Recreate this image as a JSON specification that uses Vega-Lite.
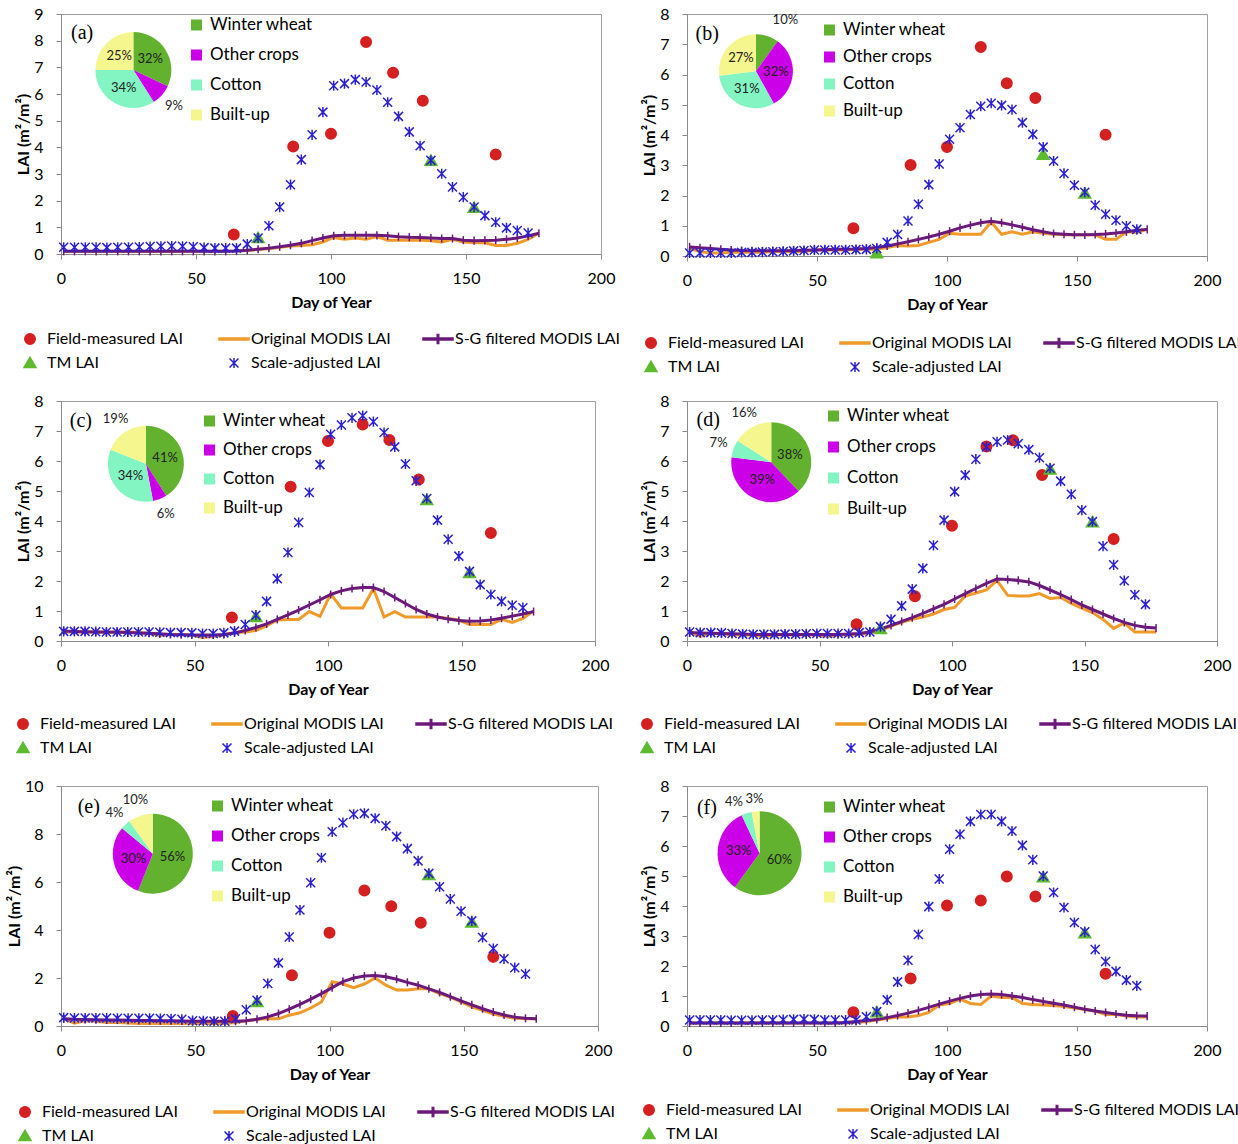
{
"$schema":"https://vega.github.io/schema/vega-lite/v6.json",
"padding":{"left":5,"top":5,"right":5,"bottom":5},
"bounds":"flush",
"columns":2,
"spacing":{"row":145,"column":86},
"resolve":{"scale":{"x":"independent","y":"independent","color":"independent","fill":"independent","stroke":"independent","shape":"independent","theta":"independent"},"legend":{"color":"independent","fill":"independent","stroke":"independent","shape":"independent"},"axis":{"x":"independent","y":"independent"}},
"config":{
 "font":"Lato",
 "view":{"stroke":"#a0a0a0","strokeWidth":1},
 "axis":{"grid":false,"labelOverlap":false,"labelFlush":false,"domainColor":"#8a8a8a","tickColor":"#8a8a8a","tickSize":5,"labelFont":"Lato","labelFontSize":16,"labelColor":"#000","titleFont":"Lato","titleFontSize":16,"titleFontWeight":"bold","titleColor":"#000"},
 "axisX":{"labelPadding":11,"titlePadding":8},
 "axisY":{"labelPadding":13,"titlePadding":2}
},
"datasets":{
"panels":[{"p":"a","label":"(a)"},{"p":"b","label":"(b)"},{"p":"c","label":"(c)"},{"p":"d","label":"(d)"},{"p":"e","label":"(e)"},{"p":"f","label":"(f)"}],
"pie":[
{"p":"a","crop":"Winter wheat","pct":0.32},{"p":"a","crop":"Other crops","pct":0.09},{"p":"a","crop":"Cotton","pct":0.34},{"p":"a","crop":"Built-up","pct":0.25},
{"p":"b","crop":"Winter wheat","pct":0.10},{"p":"b","crop":"Other crops","pct":0.32},{"p":"b","crop":"Cotton","pct":0.31},{"p":"b","crop":"Built-up","pct":0.27},
{"p":"c","crop":"Winter wheat","pct":0.41},{"p":"c","crop":"Other crops","pct":0.06},{"p":"c","crop":"Cotton","pct":0.34},{"p":"c","crop":"Built-up","pct":0.19},
{"p":"d","crop":"Winter wheat","pct":0.38},{"p":"d","crop":"Other crops","pct":0.39},{"p":"d","crop":"Cotton","pct":0.07},{"p":"d","crop":"Built-up","pct":0.16},
{"p":"e","crop":"Winter wheat","pct":0.56},{"p":"e","crop":"Other crops","pct":0.30},{"p":"e","crop":"Cotton","pct":0.04},{"p":"e","crop":"Built-up","pct":0.10},
{"p":"f","crop":"Winter wheat","pct":0.60},{"p":"f","crop":"Other crops","pct":0.33},{"p":"f","crop":"Cotton","pct":0.04},{"p":"f","crop":"Built-up","pct":0.03}
],
"lai":[
{"p":"a","d":64,"FM":0.73},{"p":"a","d":86,"FM":4.03},{"p":"a","d":100,"FM":4.51},{"p":"a","d":113,"FM":7.95},{"p":"a","d":123,"FM":6.8},{"p":"a","d":134,"FM":5.75},{"p":"a","d":161,"FM":3.73},
{"p":"a","d":73,"TM":0.6},{"p":"a","d":137,"TM":3.5},{"p":"a","d":153,"TM":1.73},
{"p":"a","d":1,"SA":0.25,"OM":0.1,"SG":0.1},{"p":"a","d":5,"SA":0.25,"OM":0.1,"SG":0.1},{"p":"a","d":9,"SA":0.25,"OM":0.1,"SG":0.1},{"p":"a","d":13,"SA":0.25,"OM":0.1,"SG":0.1},{"p":"a","d":17,"SA":0.24,"OM":0.1,"SG":0.1},{"p":"a","d":21,"SA":0.25,"OM":0.1,"SG":0.1},{"p":"a","d":25,"SA":0.25,"OM":0.1,"SG":0.1},{"p":"a","d":29,"SA":0.26,"OM":0.1,"SG":0.1},{"p":"a","d":33,"SA":0.28,"OM":0.1,"SG":0.1},{"p":"a","d":37,"SA":0.29,"OM":0.1,"SG":0.1},{"p":"a","d":41,"SA":0.3,"OM":0.1,"SG":0.1},{"p":"a","d":45,"SA":0.29,"OM":0.1,"SG":0.1},{"p":"a","d":49,"SA":0.27,"OM":0.1,"SG":0.1},{"p":"a","d":53,"SA":0.24,"OM":0.1,"SG":0.1},{"p":"a","d":57,"SA":0.22,"OM":0.1,"SG":0.1},{"p":"a","d":61,"SA":0.22,"OM":0.1,"SG":0.1},{"p":"a","d":65,"SA":0.22,"OM":0.11,"SG":0.11},{"p":"a","d":69,"SA":0.37,"OM":0.13,"SG":0.14},{"p":"a","d":73,"SA":0.6,"OM":0.18,"SG":0.18},{"p":"a","d":77,"SA":1.06,"OM":0.2,"SG":0.22},{"p":"a","d":81,"SA":1.76,"OM":0.25,"SG":0.27},{"p":"a","d":85,"SA":2.6,"OM":0.3,"SG":0.33},{"p":"a","d":89,"SA":3.54,"OM":0.32,"SG":0.4},{"p":"a","d":93,"SA":4.47,"OM":0.35,"SG":0.5},{"p":"a","d":97,"SA":5.32,"OM":0.45,"SG":0.6},{"p":"a","d":101,"SA":6.31,"OM":0.62,"SG":0.68},{"p":"a","d":105,"SA":6.39,"OM":0.55,"SG":0.7},{"p":"a","d":109,"SA":6.54,"OM":0.6,"SG":0.7},{"p":"a","d":113,"SA":6.45,"OM":0.55,"SG":0.7},{"p":"a","d":117,"SA":6.15,"OM":0.65,"SG":0.7},{"p":"a","d":121,"SA":5.69,"OM":0.52,"SG":0.68},{"p":"a","d":125,"SA":5.16,"OM":0.52,"SG":0.65},{"p":"a","d":129,"SA":4.58,"OM":0.52,"SG":0.63},{"p":"a","d":133,"SA":4.06,"OM":0.52,"SG":0.62},{"p":"a","d":137,"SA":3.51,"OM":0.5,"SG":0.6},{"p":"a","d":141,"SA":3.01,"OM":0.45,"SG":0.58},{"p":"a","d":145,"SA":2.51,"OM":0.55,"SG":0.58},{"p":"a","d":149,"SA":2.13,"OM":0.45,"SG":0.52},{"p":"a","d":153,"SA":1.76,"OM":0.42,"SG":0.5},{"p":"a","d":157,"SA":1.44,"OM":0.42,"SG":0.51},{"p":"a","d":161,"SA":1.19,"OM":0.32,"SG":0.52},{"p":"a","d":165,"SA":0.98,"OM":0.32,"SG":0.55},{"p":"a","d":169,"SA":0.88,"OM":0.4,"SG":0.6},{"p":"a","d":173,"SA":0.79,"OM":0.55,"SG":0.68},{"p":"a","d":177,"OM":0.78,"SG":0.78},
{"p":"b","d":64,"FM":0.92},{"p":"b","d":86,"FM":3.01},{"p":"b","d":100,"FM":3.6},{"p":"b","d":113,"FM":6.91},{"p":"b","d":123,"FM":5.71},{"p":"b","d":134,"FM":5.22},{"p":"b","d":161,"FM":4.01},
{"p":"b","d":73,"TM":0.09},{"p":"b","d":137,"TM":3.35},{"p":"b","d":153,"TM":2.07},
{"p":"b","d":1,"SA":0.1,"OM":0.25,"SG":0.3},{"p":"b","d":5,"SA":0.1,"OM":0.15,"SG":0.27},{"p":"b","d":9,"SA":0.1,"OM":0.1,"SG":0.25},{"p":"b","d":13,"SA":0.1,"OM":0.1,"SG":0.22},{"p":"b","d":17,"SA":0.1,"OM":0.12,"SG":0.2},{"p":"b","d":21,"SA":0.12,"OM":0.12,"SG":0.18},{"p":"b","d":25,"SA":0.12,"OM":0.12,"SG":0.17},{"p":"b","d":29,"SA":0.13,"OM":0.12,"SG":0.17},{"p":"b","d":33,"SA":0.14,"OM":0.15,"SG":0.17},{"p":"b","d":37,"SA":0.15,"OM":0.15,"SG":0.17},{"p":"b","d":41,"SA":0.17,"OM":0.15,"SG":0.18},{"p":"b","d":45,"SA":0.18,"OM":0.15,"SG":0.19},{"p":"b","d":49,"SA":0.2,"OM":0.2,"SG":0.2},{"p":"b","d":53,"SA":0.2,"OM":0.2,"SG":0.21},{"p":"b","d":57,"SA":0.2,"OM":0.2,"SG":0.22},{"p":"b","d":61,"SA":0.2,"OM":0.2,"SG":0.22},{"p":"b","d":65,"SA":0.21,"OM":0.22,"SG":0.23},{"p":"b","d":69,"SA":0.22,"OM":0.22,"SG":0.25},{"p":"b","d":73,"SA":0.25,"OM":0.22,"SG":0.28},{"p":"b","d":77,"SA":0.45,"OM":0.28,"SG":0.33},{"p":"b","d":81,"SA":0.71,"OM":0.35,"SG":0.4},{"p":"b","d":85,"SA":1.16,"OM":0.33,"SG":0.47},{"p":"b","d":89,"SA":1.71,"OM":0.35,"SG":0.55},{"p":"b","d":93,"SA":2.36,"OM":0.45,"SG":0.63},{"p":"b","d":97,"SA":3.04,"OM":0.55,"SG":0.72},{"p":"b","d":101,"SA":3.86,"OM":0.75,"SG":0.82},{"p":"b","d":105,"SA":4.24,"OM":0.72,"SG":0.93},{"p":"b","d":109,"SA":4.68,"OM":0.72,"SG":1.02},{"p":"b","d":113,"SA":4.95,"OM":0.72,"SG":1.1},{"p":"b","d":117,"SA":5.05,"OM":1.12,"SG":1.15},{"p":"b","d":121,"SA":4.98,"OM":0.72,"SG":1.1},{"p":"b","d":125,"SA":4.84,"OM":0.8,"SG":1.03},{"p":"b","d":129,"SA":4.41,"OM":0.72,"SG":0.95},{"p":"b","d":133,"SA":4.02,"OM":0.8,"SG":0.87},{"p":"b","d":137,"SA":3.6,"OM":0.75,"SG":0.8},{"p":"b","d":141,"SA":3.14,"OM":0.72,"SG":0.74},{"p":"b","d":145,"SA":2.73,"OM":0.7,"SG":0.72},{"p":"b","d":149,"SA":2.34,"OM":0.7,"SG":0.7},{"p":"b","d":153,"SA":2.11,"OM":0.7,"SG":0.7},{"p":"b","d":157,"SA":1.68,"OM":0.7,"SG":0.71},{"p":"b","d":161,"SA":1.38,"OM":0.55,"SG":0.73},{"p":"b","d":165,"SA":1.18,"OM":0.55,"SG":0.76},{"p":"b","d":169,"SA":0.99,"OM":0.8,"SG":0.8},{"p":"b","d":173,"SA":0.88,"OM":0.78,"SG":0.85},{"p":"b","d":177,"OM":0.88,"SG":0.88},
{"p":"c","d":64,"FM":0.78},{"p":"c","d":86,"FM":5.14},{"p":"c","d":100,"FM":6.67},{"p":"c","d":113,"FM":7.22},{"p":"c","d":123,"FM":6.7},{"p":"c","d":134,"FM":5.38},{"p":"c","d":161,"FM":3.6},
{"p":"c","d":73,"TM":0.8},{"p":"c","d":137,"TM":4.7},{"p":"c","d":153,"TM":2.27},
{"p":"c","d":1,"SA":0.32,"OM":0.3,"SG":0.33},{"p":"c","d":5,"SA":0.32,"OM":0.3,"SG":0.32},{"p":"c","d":9,"SA":0.32,"OM":0.3,"SG":0.31},{"p":"c","d":13,"SA":0.31,"OM":0.3,"SG":0.3},{"p":"c","d":17,"SA":0.3,"OM":0.28,"SG":0.3},{"p":"c","d":21,"SA":0.3,"OM":0.3,"SG":0.29},{"p":"c","d":25,"SA":0.3,"OM":0.3,"SG":0.28},{"p":"c","d":29,"SA":0.3,"OM":0.28,"SG":0.27},{"p":"c","d":33,"SA":0.3,"OM":0.25,"SG":0.26},{"p":"c","d":37,"SA":0.29,"OM":0.18,"SG":0.24},{"p":"c","d":41,"SA":0.28,"OM":0.22,"SG":0.22},{"p":"c","d":45,"SA":0.28,"OM":0.22,"SG":0.21},{"p":"c","d":49,"SA":0.27,"OM":0.2,"SG":0.2},{"p":"c","d":53,"SA":0.25,"OM":0.12,"SG":0.2},{"p":"c","d":57,"SA":0.25,"OM":0.15,"SG":0.2},{"p":"c","d":61,"SA":0.27,"OM":0.2,"SG":0.22},{"p":"c","d":65,"SA":0.33,"OM":0.28,"SG":0.27},{"p":"c","d":69,"SA":0.55,"OM":0.3,"SG":0.35},{"p":"c","d":73,"SA":0.86,"OM":0.35,"SG":0.45},{"p":"c","d":77,"SA":1.32,"OM":0.5,"SG":0.57},{"p":"c","d":81,"SA":2.08,"OM":0.7,"SG":0.72},{"p":"c","d":85,"SA":2.95,"OM":0.72,"SG":0.87},{"p":"c","d":89,"SA":3.95,"OM":0.72,"SG":1.03},{"p":"c","d":93,"SA":4.95,"OM":0.98,"SG":1.2},{"p":"c","d":97,"SA":5.88,"OM":0.82,"SG":1.37},{"p":"c","d":101,"SA":6.89,"OM":1.57,"SG":1.55},{"p":"c","d":105,"SA":7.2,"OM":1.1,"SG":1.67},{"p":"c","d":109,"SA":7.44,"OM":1.1,"SG":1.75},{"p":"c","d":113,"SA":7.51,"OM":1.1,"SG":1.78},{"p":"c","d":117,"SA":7.31,"OM":1.75,"SG":1.78},{"p":"c","d":121,"SA":6.95,"OM":0.8,"SG":1.65},{"p":"c","d":125,"SA":6.47,"OM":0.98,"SG":1.45},{"p":"c","d":129,"SA":5.9,"OM":0.8,"SG":1.25},{"p":"c","d":133,"SA":5.34,"OM":0.8,"SG":1.05},{"p":"c","d":137,"SA":4.75,"OM":0.8,"SG":0.9},{"p":"c","d":141,"SA":4.03,"OM":0.8,"SG":0.8},{"p":"c","d":145,"SA":3.39,"OM":0.75,"SG":0.73},{"p":"c","d":149,"SA":2.83,"OM":0.7,"SG":0.68},{"p":"c","d":153,"SA":2.32,"OM":0.55,"SG":0.66},{"p":"c","d":157,"SA":1.88,"OM":0.55,"SG":0.67},{"p":"c","d":161,"SA":1.55,"OM":0.55,"SG":0.7},{"p":"c","d":165,"SA":1.32,"OM":0.72,"SG":0.76},{"p":"c","d":169,"SA":1.19,"OM":0.62,"SG":0.83},{"p":"c","d":173,"SA":1.11,"OM":0.75,"SG":0.9},{"p":"c","d":177,"OM":1.0,"SG":0.98},
{"p":"d","d":64,"FM":0.56},{"p":"d","d":86,"FM":1.49},{"p":"d","d":100,"FM":3.84},{"p":"d","d":113,"FM":6.48},{"p":"d","d":123,"FM":6.69},{"p":"d","d":134,"FM":5.53},{"p":"d","d":161,"FM":3.4},
{"p":"d","d":73,"TM":0.4},{"p":"d","d":137,"TM":5.72},{"p":"d","d":153,"TM":3.96},
{"p":"d","d":1,"SA":0.3,"OM":0.3,"SG":0.28},{"p":"d","d":5,"SA":0.28,"OM":0.15,"SG":0.27},{"p":"d","d":9,"SA":0.28,"OM":0.25,"SG":0.26},{"p":"d","d":13,"SA":0.27,"OM":0.25,"SG":0.25},{"p":"d","d":17,"SA":0.25,"OM":0.2,"SG":0.24},{"p":"d","d":21,"SA":0.23,"OM":0.2,"SG":0.23},{"p":"d","d":25,"SA":0.22,"OM":0.2,"SG":0.22},{"p":"d","d":29,"SA":0.22,"OM":0.15,"SG":0.22},{"p":"d","d":33,"SA":0.22,"OM":0.2,"SG":0.22},{"p":"d","d":37,"SA":0.23,"OM":0.2,"SG":0.22},{"p":"d","d":41,"SA":0.23,"OM":0.2,"SG":0.22},{"p":"d","d":45,"SA":0.24,"OM":0.2,"SG":0.22},{"p":"d","d":49,"SA":0.25,"OM":0.2,"SG":0.22},{"p":"d","d":53,"SA":0.25,"OM":0.15,"SG":0.22},{"p":"d","d":57,"SA":0.25,"OM":0.2,"SG":0.22},{"p":"d","d":61,"SA":0.25,"OM":0.2,"SG":0.23},{"p":"d","d":65,"SA":0.28,"OM":0.22,"SG":0.25},{"p":"d","d":69,"SA":0.3,"OM":0.28,"SG":0.3},{"p":"d","d":73,"SA":0.48,"OM":0.35,"SG":0.4},{"p":"d","d":77,"SA":0.72,"OM":0.5,"SG":0.52},{"p":"d","d":81,"SA":1.17,"OM":0.62,"SG":0.65},{"p":"d","d":85,"SA":1.73,"OM":0.72,"SG":0.78},{"p":"d","d":89,"SA":2.42,"OM":0.8,"SG":0.92},{"p":"d","d":93,"SA":3.19,"OM":0.9,"SG":1.07},{"p":"d","d":97,"SA":4.03,"OM":1.05,"SG":1.22},{"p":"d","d":101,"SA":4.98,"OM":1.12,"SG":1.4},{"p":"d","d":105,"SA":5.53,"OM":1.5,"SG":1.58},{"p":"d","d":109,"SA":6.06,"OM":1.6,"SG":1.75},{"p":"d","d":113,"SA":6.47,"OM":1.7,"SG":1.92},{"p":"d","d":117,"SA":6.64,"OM":2.02,"SG":2.07},{"p":"d","d":121,"SA":6.7,"OM":1.52,"SG":2.05},{"p":"d","d":125,"SA":6.58,"OM":1.5,"SG":2.02},{"p":"d","d":129,"SA":6.38,"OM":1.5,"SG":1.97},{"p":"d","d":133,"SA":6.11,"OM":1.58,"SG":1.85},{"p":"d","d":137,"SA":5.76,"OM":1.42,"SG":1.7},{"p":"d","d":141,"SA":5.33,"OM":1.45,"SG":1.55},{"p":"d","d":145,"SA":4.89,"OM":1.25,"SG":1.38},{"p":"d","d":149,"SA":4.36,"OM":1.1,"SG":1.2},{"p":"d","d":153,"SA":3.98,"OM":0.95,"SG":1.05},{"p":"d","d":157,"SA":3.16,"OM":0.72,"SG":0.9},{"p":"d","d":161,"SA":2.54,"OM":0.42,"SG":0.75},{"p":"d","d":165,"SA":2.01,"OM":0.6,"SG":0.62},{"p":"d","d":169,"SA":1.54,"OM":0.3,"SG":0.52},{"p":"d","d":173,"SA":1.22,"OM":0.3,"SG":0.46},{"p":"d","d":177,"OM":0.3,"SG":0.43},
{"p":"e","d":64,"FM":0.42},{"p":"e","d":86,"FM":2.11},{"p":"e","d":100,"FM":3.89},{"p":"e","d":113,"FM":5.65},{"p":"e","d":123,"FM":4.99},{"p":"e","d":134,"FM":4.3},{"p":"e","d":161,"FM":2.88},
{"p":"e","d":73,"TM":1.0},{"p":"e","d":137,"TM":6.29},{"p":"e","d":153,"TM":4.31},
{"p":"e","d":1,"SA":0.35,"OM":0.3,"SG":0.3},{"p":"e","d":5,"SA":0.33,"OM":0.12,"SG":0.28},{"p":"e","d":9,"SA":0.33,"OM":0.22,"SG":0.27},{"p":"e","d":13,"SA":0.33,"OM":0.2,"SG":0.26},{"p":"e","d":17,"SA":0.33,"OM":0.15,"SG":0.25},{"p":"e","d":21,"SA":0.32,"OM":0.15,"SG":0.25},{"p":"e","d":25,"SA":0.32,"OM":0.12,"SG":0.24},{"p":"e","d":29,"SA":0.32,"OM":0.1,"SG":0.23},{"p":"e","d":33,"SA":0.32,"OM":0.1,"SG":0.23},{"p":"e","d":37,"SA":0.31,"OM":0.1,"SG":0.22},{"p":"e","d":41,"SA":0.3,"OM":0.1,"SG":0.22},{"p":"e","d":45,"SA":0.28,"OM":0.1,"SG":0.21},{"p":"e","d":49,"SA":0.22,"OM":0.1,"SG":0.2},{"p":"e","d":53,"SA":0.21,"OM":0.1,"SG":0.2},{"p":"e","d":57,"SA":0.2,"OM":0.1,"SG":0.2},{"p":"e","d":61,"SA":0.2,"OM":0.1,"SG":0.2},{"p":"e","d":65,"SA":0.3,"OM":0.15,"SG":0.2},{"p":"e","d":69,"SA":0.68,"OM":0.22,"SG":0.22},{"p":"e","d":73,"SA":1.07,"OM":0.28,"SG":0.28},{"p":"e","d":77,"SA":1.77,"OM":0.3,"SG":0.38},{"p":"e","d":81,"SA":2.63,"OM":0.3,"SG":0.52},{"p":"e","d":85,"SA":3.71,"OM":0.45,"SG":0.7},{"p":"e","d":89,"SA":4.83,"OM":0.55,"SG":0.9},{"p":"e","d":93,"SA":5.97,"OM":0.75,"SG":1.12},{"p":"e","d":97,"SA":7.01,"OM":1.0,"SG":1.35},{"p":"e","d":101,"SA":8.09,"OM":1.85,"SG":1.6},{"p":"e","d":105,"SA":8.47,"OM":1.75,"SG":1.85},{"p":"e","d":109,"SA":8.82,"OM":1.6,"SG":2.0},{"p":"e","d":113,"SA":8.86,"OM":1.75,"SG":2.08},{"p":"e","d":117,"SA":8.65,"OM":2.0,"SG":2.1},{"p":"e","d":121,"SA":8.34,"OM":1.7,"SG":2.05},{"p":"e","d":125,"SA":7.89,"OM":1.5,"SG":1.95},{"p":"e","d":129,"SA":7.39,"OM":1.5,"SG":1.82},{"p":"e","d":133,"SA":6.88,"OM":1.55,"SG":1.7},{"p":"e","d":137,"SA":6.36,"OM":1.55,"SG":1.55},{"p":"e","d":141,"SA":5.8,"OM":1.35,"SG":1.4},{"p":"e","d":145,"SA":5.29,"OM":1.2,"SG":1.22},{"p":"e","d":149,"SA":4.78,"OM":1.0,"SG":1.05},{"p":"e","d":153,"SA":4.38,"OM":0.8,"SG":0.88},{"p":"e","d":157,"SA":3.69,"OM":0.65,"SG":0.72},{"p":"e","d":161,"SA":3.23,"OM":0.5,"SG":0.58},{"p":"e","d":165,"SA":2.8,"OM":0.4,"SG":0.46},{"p":"e","d":169,"SA":2.43,"OM":0.32,"SG":0.37},{"p":"e","d":173,"SA":2.17,"OM":0.3,"SG":0.32},{"p":"e","d":177,"OM":0.3,"SG":0.3},
{"p":"f","d":64,"FM":0.46},{"p":"f","d":86,"FM":1.58},{"p":"f","d":100,"FM":4.02},{"p":"f","d":113,"FM":4.18},{"p":"f","d":123,"FM":4.98},{"p":"f","d":134,"FM":4.32},{"p":"f","d":161,"FM":1.74},
{"p":"f","d":73,"TM":0.46},{"p":"f","d":137,"TM":4.96},{"p":"f","d":153,"TM":3.09},
{"p":"f","d":1,"SA":0.2,"OM":0.1,"SG":0.1},{"p":"f","d":5,"SA":0.2,"OM":0.1,"SG":0.1},{"p":"f","d":9,"SA":0.2,"OM":0.1,"SG":0.1},{"p":"f","d":13,"SA":0.2,"OM":0.1,"SG":0.1},{"p":"f","d":17,"SA":0.19,"OM":0.1,"SG":0.1},{"p":"f","d":21,"SA":0.19,"OM":0.1,"SG":0.1},{"p":"f","d":25,"SA":0.19,"OM":0.1,"SG":0.1},{"p":"f","d":29,"SA":0.2,"OM":0.1,"SG":0.1},{"p":"f","d":33,"SA":0.2,"OM":0.1,"SG":0.1},{"p":"f","d":37,"SA":0.21,"OM":0.1,"SG":0.1},{"p":"f","d":41,"SA":0.22,"OM":0.1,"SG":0.1},{"p":"f","d":45,"SA":0.23,"OM":0.1,"SG":0.1},{"p":"f","d":49,"SA":0.22,"OM":0.1,"SG":0.1},{"p":"f","d":53,"SA":0.2,"OM":0.1,"SG":0.1},{"p":"f","d":57,"SA":0.2,"OM":0.1,"SG":0.1},{"p":"f","d":61,"SA":0.2,"OM":0.1,"SG":0.12},{"p":"f","d":65,"SA":0.2,"OM":0.12,"SG":0.15},{"p":"f","d":69,"SA":0.31,"OM":0.15,"SG":0.18},{"p":"f","d":73,"SA":0.48,"OM":0.2,"SG":0.22},{"p":"f","d":77,"SA":0.87,"OM":0.25,"SG":0.28},{"p":"f","d":81,"SA":1.47,"OM":0.3,"SG":0.35},{"p":"f","d":85,"SA":2.19,"OM":0.3,"SG":0.43},{"p":"f","d":89,"SA":3.05,"OM":0.35,"SG":0.52},{"p":"f","d":93,"SA":3.98,"OM":0.45,"SG":0.62},{"p":"f","d":97,"SA":4.9,"OM":0.7,"SG":0.73},{"p":"f","d":101,"SA":5.89,"OM":0.75,"SG":0.83},{"p":"f","d":105,"SA":6.39,"OM":0.9,"SG":0.92},{"p":"f","d":109,"SA":6.82,"OM":0.75,"SG":1.0},{"p":"f","d":113,"SA":7.05,"OM":0.72,"SG":1.05},{"p":"f","d":117,"SA":7.05,"OM":1.0,"SG":1.07},{"p":"f","d":121,"SA":6.82,"OM":0.95,"SG":1.05},{"p":"f","d":125,"SA":6.5,"OM":0.95,"SG":1.0},{"p":"f","d":129,"SA":6.02,"OM":0.75,"SG":0.95},{"p":"f","d":133,"SA":5.54,"OM":0.72,"SG":0.88},{"p":"f","d":137,"SA":5.0,"OM":0.7,"SG":0.82},{"p":"f","d":141,"SA":4.45,"OM":0.68,"SG":0.76},{"p":"f","d":145,"SA":3.95,"OM":0.65,"SG":0.7},{"p":"f","d":149,"SA":3.45,"OM":0.6,"SG":0.63},{"p":"f","d":153,"SA":3.14,"OM":0.55,"SG":0.56},{"p":"f","d":157,"SA":2.55,"OM":0.5,"SG":0.5},{"p":"f","d":161,"SA":2.15,"OM":0.38,"SG":0.45},{"p":"f","d":165,"SA":1.82,"OM":0.38,"SG":0.4},{"p":"f","d":169,"SA":1.53,"OM":0.33,"SG":0.36},{"p":"f","d":173,"SA":1.34,"OM":0.3,"SG":0.34},{"p":"f","d":177,"OM":0.3,"SG":0.33}
]
},
"concat":[
{"width":540,"height":240,"layer":[
 {"encoding":{"x":{"field":"d","type":"quantitative","scale":{"domain":[0,200]},"axis":{"values":[0,50,100,150,200]},"title":"Day of Year"},"y":{"field":"v","type":"quantitative","scale":{"domain":[0,9]},"axis":{"values":[0,1,2,3,4,5,6,7,8,9]},"title":"LAI (m²/m²)"}},
  "layer":[
  {"data":{"name":"lai"},"transform":[{"filter":"datum.p=='a'"},{"fold":["OM"],"as":["s","v"]},{"filter":"isValid(datum.v)"}],"mark":{"type":"line","color":"#F09A2A","strokeWidth":3}},
  {"data":{"name":"lai"},"transform":[{"filter":"datum.p=='a'"},{"fold":["SG"],"as":["s","v"]},{"filter":"isValid(datum.v)"}],"mark":{"type":"line","color":"#6B1A7B","strokeWidth":3}},
  {"data":{"name":"lai"},"transform":[{"filter":"datum.p=='a'"},{"fold":["SG"],"as":["s","v"]},{"filter":"isValid(datum.v)"}],"mark":{"type":"point","shape":"M0,-0.27L0,0.27","size":900,"filled":false,"color":"#6B1A7B","strokeWidth":1.5,"opacity":1}},
  {"data":{"name":"lai"},"transform":[{"filter":"datum.p=='a'"},{"fold":["FM","TM","SA"],"as":["s","v"]},{"filter":"isValid(datum.v)"}],"mark":{"type":"point","filled":true,"size":900,"strokeWidth":1.5,"opacity":1},
   "encoding":{
    "fill":{"field":"s","type":"nominal","scale":{"domain":["FM","OM","SG","TM","SA"],"range":["#D42020","#F09A2A","#6B1A7B","#5DBB2E","#2B20D0"]},"legend":{"orient":"none","legendX":-47,"legendY":315,"direction":"horizontal","columns":3,"gridAlign":"all","columnPadding":5,"rowPadding":4,"clipHeight":20,"title":null,"symbolSize":900,"symbolStrokeWidth":1.5,"labelFont":"Lato","labelFontSize":16,"labelColor":"#000","labelOffset":1,"labelLimit":400,"padding":0,"labelExpr":"datum.label=='FM'?'Field-measured LAI':datum.label=='OM'?'Original MODIS LAI':datum.label=='SG'?'S-G filtered MODIS LAI':datum.label=='TM'?'TM LAI':'Scale-adjusted LAI'"}},
    "stroke":{"field":"s","type":"nominal","scale":{"domain":["FM","OM","SG","TM","SA"],"range":["#D42020","#F09A2A","#6B1A7B","#5DBB2E","#2B20D0"]},"legend":{"orient":"none","legendX":-47,"legendY":315,"direction":"horizontal","columns":3,"gridAlign":"all","columnPadding":5,"rowPadding":4,"clipHeight":20,"title":null,"symbolSize":900,"symbolStrokeWidth":1.5,"labelFont":"Lato","labelFontSize":16,"labelColor":"#000","labelOffset":1,"labelLimit":400,"padding":0,"labelExpr":"datum.label=='FM'?'Field-measured LAI':datum.label=='OM'?'Original MODIS LAI':datum.label=='SG'?'S-G filtered MODIS LAI':datum.label=='TM'?'TM LAI':'Scale-adjusted LAI'"}},
    "shape":{"field":"s","type":"nominal","scale":{"domain":["FM","OM","SG","TM","SA"],"range":["M0.35,0A0.35,0.35,0,1,1,-0.35,0A0.35,0.35,0,1,1,0.35,0Z","M-1,-0.07L1,-0.07L1,0.07L-1,0.07Z","M-1,-0.07L-0.05,-0.07L-0.05,-0.3L0.05,-0.3L0.05,-0.07L1,-0.07L1,0.07L0.05,0.07L0.05,0.3L-0.05,0.3L-0.05,0.07L-1,0.07Z","M0,-0.38L0.4,0.3L-0.4,0.3Z","M-0.3,-0.3L0.3,0.3M-0.3,0.3L0.3,-0.3M0,-0.34L0,0.34"]},"legend":{"orient":"none","legendX":-47,"legendY":315,"direction":"horizontal","columns":3,"gridAlign":"all","columnPadding":5,"rowPadding":4,"clipHeight":20,"title":null,"symbolSize":900,"symbolStrokeWidth":1.5,"labelFont":"Lato","labelFontSize":16,"labelColor":"#000","labelOffset":1,"labelLimit":400,"padding":0,"labelExpr":"datum.label=='FM'?'Field-measured LAI':datum.label=='OM'?'Original MODIS LAI':datum.label=='SG'?'S-G filtered MODIS LAI':datum.label=='TM'?'TM LAI':'Scale-adjusted LAI'"}}}}
 ]},
 {"data":{"name":"pie"},"transform":[{"filter":"datum.p=='a'"}],"mark":{"type":"arc","radius":38},
  "encoding":{"x":{"datum":26.8,"type":"quantitative","axis":{"values":[0,50,100,150,200]}},"y":{"datum":6.9,"type":"quantitative","axis":{"values":[0,1,2,3,4,5,6,7,8,9]}},"theta":{"field":"pct","type":"quantitative","stack":true},"order":{"field":"crop","sort":"descending"},
   "color":{"field":"crop","type":"nominal","scale":{"domain":["Winter wheat","Other crops","Cotton","Built-up"],"range":["#62B22F","#CC00E8","#82F5C2","#F6F68E"]},"legend":{"orient":"none","legendX":127,"legendY":2,"title":null,"symbolType":"square","symbolSize":121,"symbolStrokeWidth":0,"labelFont":"Lato","labelFontSize":17,"labelColor":"#000","labelOffset":5,"rowPadding":12,"clipHeight":18,"padding":0}}}},
 {"data":{"name":"pie"},"transform":[{"filter":"datum.p=='a'"}],"mark":{"type":"text","radius":20,"fontSize":13,"color":"#222"},
  "encoding":{"x":{"datum":26.8,"type":"quantitative","axis":{"values":[0,50,100,150,200]}},"y":{"datum":6.9,"type":"quantitative","axis":{"values":[0,1,2,3,4,5,6,7,8,9]}},"theta":{"field":"pct","type":"quantitative","stack":true},"order":{"field":"crop","sort":"descending"},"text":{"field":"pct","type":"quantitative","format":".0%"},"opacity":{"condition":{"test":"datum.pct<0.2","value":0},"value":1}}},
 {"data":{"name":"pie"},"transform":[{"filter":"datum.p=='a'"}],"mark":{"type":"text","radius":54,"fontSize":13,"color":"#222"},
  "encoding":{"x":{"datum":26.8,"type":"quantitative","axis":{"values":[0,50,100,150,200]}},"y":{"datum":6.9,"type":"quantitative","axis":{"values":[0,1,2,3,4,5,6,7,8,9]}},"theta":{"field":"pct","type":"quantitative","stack":true},"order":{"field":"crop","sort":"descending"},"text":{"field":"pct","type":"quantitative","format":".0%"},"opacity":{"condition":{"test":"datum.pct>=0.2","value":0},"value":1}}},
 {"data":{"name":"panels"},"transform":[{"filter":"datum.p=='a'"}],"mark":{"type":"text","align":"left","baseline":"middle","font":"Liberation Serif","fontSize":20,"color":"#000"},
  "encoding":{"x":{"datum":3.7,"type":"quantitative","axis":{"values":[0,50,100,150,200]}},"y":{"datum":8.29,"type":"quantitative","axis":{"values":[0,1,2,3,4,5,6,7,8,9]}},"text":{"field":"label"}}}
]},
{"width":520,"height":242,"layer":[
 {"encoding":{"x":{"field":"d","type":"quantitative","scale":{"domain":[0,200]},"axis":{"values":[0,50,100,150,200]},"title":"Day of Year"},"y":{"field":"v","type":"quantitative","scale":{"domain":[0,8]},"axis":{"values":[0,1,2,3,4,5,6,7,8]},"title":"LAI (m²/m²)"}},
  "layer":[
  {"data":{"name":"lai"},"transform":[{"filter":"datum.p=='b'"},{"fold":["OM"],"as":["s","v"]},{"filter":"isValid(datum.v)"}],"mark":{"type":"line","color":"#F09A2A","strokeWidth":3}},
  {"data":{"name":"lai"},"transform":[{"filter":"datum.p=='b'"},{"fold":["SG"],"as":["s","v"]},{"filter":"isValid(datum.v)"}],"mark":{"type":"line","color":"#6B1A7B","strokeWidth":3}},
  {"data":{"name":"lai"},"transform":[{"filter":"datum.p=='b'"},{"fold":["SG"],"as":["s","v"]},{"filter":"isValid(datum.v)"}],"mark":{"type":"point","shape":"M0,-0.27L0,0.27","size":900,"filled":false,"color":"#6B1A7B","strokeWidth":1.5,"opacity":1}},
  {"data":{"name":"lai"},"transform":[{"filter":"datum.p=='b'"},{"fold":["FM","TM","SA"],"as":["s","v"]},{"filter":"isValid(datum.v)"}],"mark":{"type":"point","filled":true,"size":900,"strokeWidth":1.5,"opacity":1},
   "encoding":{
    "fill":{"field":"s","type":"nominal","scale":{"domain":["FM","OM","SG","TM","SA"],"range":["#D42020","#F09A2A","#6B1A7B","#5DBB2E","#2B20D0"]},"legend":{"orient":"none","legendX":-52,"legendY":319,"direction":"horizontal","columns":3,"gridAlign":"all","columnPadding":5,"rowPadding":4,"clipHeight":20,"title":null,"symbolSize":900,"symbolStrokeWidth":1.5,"labelFont":"Lato","labelFontSize":16,"labelColor":"#000","labelOffset":1,"labelLimit":400,"padding":0,"labelExpr":"datum.label=='FM'?'Field-measured LAI':datum.label=='OM'?'Original MODIS LAI':datum.label=='SG'?'S-G filtered MODIS LAI':datum.label=='TM'?'TM LAI':'Scale-adjusted LAI'"}},
    "stroke":{"field":"s","type":"nominal","scale":{"domain":["FM","OM","SG","TM","SA"],"range":["#D42020","#F09A2A","#6B1A7B","#5DBB2E","#2B20D0"]},"legend":{"orient":"none","legendX":-52,"legendY":319,"direction":"horizontal","columns":3,"gridAlign":"all","columnPadding":5,"rowPadding":4,"clipHeight":20,"title":null,"symbolSize":900,"symbolStrokeWidth":1.5,"labelFont":"Lato","labelFontSize":16,"labelColor":"#000","labelOffset":1,"labelLimit":400,"padding":0,"labelExpr":"datum.label=='FM'?'Field-measured LAI':datum.label=='OM'?'Original MODIS LAI':datum.label=='SG'?'S-G filtered MODIS LAI':datum.label=='TM'?'TM LAI':'Scale-adjusted LAI'"}},
    "shape":{"field":"s","type":"nominal","scale":{"domain":["FM","OM","SG","TM","SA"],"range":["M0.35,0A0.35,0.35,0,1,1,-0.35,0A0.35,0.35,0,1,1,0.35,0Z","M-1,-0.07L1,-0.07L1,0.07L-1,0.07Z","M-1,-0.07L-0.05,-0.07L-0.05,-0.3L0.05,-0.3L0.05,-0.07L1,-0.07L1,0.07L0.05,0.07L0.05,0.3L-0.05,0.3L-0.05,0.07L-1,0.07Z","M0,-0.38L0.4,0.3L-0.4,0.3Z","M-0.3,-0.3L0.3,0.3M-0.3,0.3L0.3,-0.3M0,-0.34L0,0.34"]},"legend":{"orient":"none","legendX":-52,"legendY":319,"direction":"horizontal","columns":3,"gridAlign":"all","columnPadding":5,"rowPadding":4,"clipHeight":20,"title":null,"symbolSize":900,"symbolStrokeWidth":1.5,"labelFont":"Lato","labelFontSize":16,"labelColor":"#000","labelOffset":1,"labelLimit":400,"padding":0,"labelExpr":"datum.label=='FM'?'Field-measured LAI':datum.label=='OM'?'Original MODIS LAI':datum.label=='SG'?'S-G filtered MODIS LAI':datum.label=='TM'?'TM LAI':'Scale-adjusted LAI'"}}}}
 ]},
 {"data":{"name":"pie"},"transform":[{"filter":"datum.p=='b'"}],"mark":{"type":"arc","radius":37},
  "encoding":{"x":{"datum":26.5,"type":"quantitative","axis":{"values":[0,50,100,150,200]}},"y":{"datum":6.11,"type":"quantitative","axis":{"values":[0,1,2,3,4,5,6,7,8]}},"theta":{"field":"pct","type":"quantitative","stack":true},"order":{"field":"crop","sort":"descending"},
   "color":{"field":"crop","type":"nominal","scale":{"domain":["Winter wheat","Other crops","Cotton","Built-up"],"range":["#62B22F","#CC00E8","#82F5C2","#F6F68E"]},"legend":{"orient":"none","legendX":134,"legendY":7,"title":null,"symbolType":"square","symbolSize":121,"symbolStrokeWidth":0,"labelFont":"Lato","labelFontSize":17,"labelColor":"#000","labelOffset":5,"rowPadding":9,"clipHeight":18,"padding":0}}}},
 {"data":{"name":"pie"},"transform":[{"filter":"datum.p=='b'"}],"mark":{"type":"text","radius":20,"fontSize":13,"color":"#222"},
  "encoding":{"x":{"datum":26.5,"type":"quantitative","axis":{"values":[0,50,100,150,200]}},"y":{"datum":6.11,"type":"quantitative","axis":{"values":[0,1,2,3,4,5,6,7,8]}},"theta":{"field":"pct","type":"quantitative","stack":true},"order":{"field":"crop","sort":"descending"},"text":{"field":"pct","type":"quantitative","format":".0%"},"opacity":{"condition":{"test":"datum.pct<0.2","value":0},"value":1}}},
 {"data":{"name":"pie"},"transform":[{"filter":"datum.p=='b'"}],"mark":{"type":"text","radius":54,"fontSize":13,"color":"#222","align":"left"},
  "encoding":{"x":{"datum":26.5,"type":"quantitative","axis":{"values":[0,50,100,150,200]}},"y":{"datum":6.11,"type":"quantitative","axis":{"values":[0,1,2,3,4,5,6,7,8]}},"theta":{"field":"pct","type":"quantitative","stack":true},"order":{"field":"crop","sort":"descending"},"text":{"field":"pct","type":"quantitative","format":".0%"},"opacity":{"condition":{"test":"datum.pct>=0.2","value":0},"value":1}}},
 {"data":{"name":"panels"},"transform":[{"filter":"datum.p=='b'"}],"mark":{"type":"text","align":"left","baseline":"middle","font":"Liberation Serif","fontSize":20,"color":"#000"},
  "encoding":{"x":{"datum":3.3,"type":"quantitative","axis":{"values":[0,50,100,150,200]}},"y":{"datum":7.34,"type":"quantitative","axis":{"values":[0,1,2,3,4,5,6,7,8]}},"text":{"field":"label"}}}
]},
{"width":534,"height":240,"layer":[
 {"encoding":{"x":{"field":"d","type":"quantitative","scale":{"domain":[0,200]},"axis":{"values":[0,50,100,150,200]},"title":"Day of Year"},"y":{"field":"v","type":"quantitative","scale":{"domain":[0,8]},"axis":{"values":[0,1,2,3,4,5,6,7,8]},"title":"LAI (m²/m²)"}},
  "layer":[
  {"data":{"name":"lai"},"transform":[{"filter":"datum.p=='c'"},{"fold":["OM"],"as":["s","v"]},{"filter":"isValid(datum.v)"}],"mark":{"type":"line","color":"#F09A2A","strokeWidth":3}},
  {"data":{"name":"lai"},"transform":[{"filter":"datum.p=='c'"},{"fold":["SG"],"as":["s","v"]},{"filter":"isValid(datum.v)"}],"mark":{"type":"line","color":"#6B1A7B","strokeWidth":3}},
  {"data":{"name":"lai"},"transform":[{"filter":"datum.p=='c'"},{"fold":["SG"],"as":["s","v"]},{"filter":"isValid(datum.v)"}],"mark":{"type":"point","shape":"M0,-0.27L0,0.27","size":900,"filled":false,"color":"#6B1A7B","strokeWidth":1.5,"opacity":1}},
  {"data":{"name":"lai"},"transform":[{"filter":"datum.p=='c'"},{"fold":["FM","TM","SA"],"as":["s","v"]},{"filter":"isValid(datum.v)"}],"mark":{"type":"point","filled":true,"size":900,"strokeWidth":1.5,"opacity":1},
   "encoding":{
    "fill":{"field":"s","type":"nominal","scale":{"domain":["FM","OM","SG","TM","SA"],"range":["#D42020","#F09A2A","#6B1A7B","#5DBB2E","#2B20D0"]},"legend":{"orient":"none","legendX":-54,"legendY":313,"direction":"horizontal","columns":3,"gridAlign":"all","columnPadding":5,"rowPadding":4,"clipHeight":20,"title":null,"symbolSize":900,"symbolStrokeWidth":1.5,"labelFont":"Lato","labelFontSize":16,"labelColor":"#000","labelOffset":1,"labelLimit":400,"padding":0,"labelExpr":"datum.label=='FM'?'Field-measured LAI':datum.label=='OM'?'Original MODIS LAI':datum.label=='SG'?'S-G filtered MODIS LAI':datum.label=='TM'?'TM LAI':'Scale-adjusted LAI'"}},
    "stroke":{"field":"s","type":"nominal","scale":{"domain":["FM","OM","SG","TM","SA"],"range":["#D42020","#F09A2A","#6B1A7B","#5DBB2E","#2B20D0"]},"legend":{"orient":"none","legendX":-54,"legendY":313,"direction":"horizontal","columns":3,"gridAlign":"all","columnPadding":5,"rowPadding":4,"clipHeight":20,"title":null,"symbolSize":900,"symbolStrokeWidth":1.5,"labelFont":"Lato","labelFontSize":16,"labelColor":"#000","labelOffset":1,"labelLimit":400,"padding":0,"labelExpr":"datum.label=='FM'?'Field-measured LAI':datum.label=='OM'?'Original MODIS LAI':datum.label=='SG'?'S-G filtered MODIS LAI':datum.label=='TM'?'TM LAI':'Scale-adjusted LAI'"}},
    "shape":{"field":"s","type":"nominal","scale":{"domain":["FM","OM","SG","TM","SA"],"range":["M0.35,0A0.35,0.35,0,1,1,-0.35,0A0.35,0.35,0,1,1,0.35,0Z","M-1,-0.07L1,-0.07L1,0.07L-1,0.07Z","M-1,-0.07L-0.05,-0.07L-0.05,-0.3L0.05,-0.3L0.05,-0.07L1,-0.07L1,0.07L0.05,0.07L0.05,0.3L-0.05,0.3L-0.05,0.07L-1,0.07Z","M0,-0.38L0.4,0.3L-0.4,0.3Z","M-0.3,-0.3L0.3,0.3M-0.3,0.3L0.3,-0.3M0,-0.34L0,0.34"]},"legend":{"orient":"none","legendX":-54,"legendY":313,"direction":"horizontal","columns":3,"gridAlign":"all","columnPadding":5,"rowPadding":4,"clipHeight":20,"title":null,"symbolSize":900,"symbolStrokeWidth":1.5,"labelFont":"Lato","labelFontSize":16,"labelColor":"#000","labelOffset":1,"labelLimit":400,"padding":0,"labelExpr":"datum.label=='FM'?'Field-measured LAI':datum.label=='OM'?'Original MODIS LAI':datum.label=='SG'?'S-G filtered MODIS LAI':datum.label=='TM'?'TM LAI':'Scale-adjusted LAI'"}}}}
 ]},
 {"data":{"name":"pie"},"transform":[{"filter":"datum.p=='c'"}],"mark":{"type":"arc","radius":38},
  "encoding":{"x":{"datum":31.8,"type":"quantitative","axis":{"values":[0,50,100,150,200]}},"y":{"datum":5.91,"type":"quantitative","axis":{"values":[0,1,2,3,4,5,6,7,8]}},"theta":{"field":"pct","type":"quantitative","stack":true},"order":{"field":"crop","sort":"descending"},
   "color":{"field":"crop","type":"nominal","scale":{"domain":["Winter wheat","Other crops","Cotton","Built-up"],"range":["#62B22F","#CC00E8","#82F5C2","#F6F68E"]},"legend":{"orient":"none","legendX":140,"legendY":11,"title":null,"symbolType":"square","symbolSize":121,"symbolStrokeWidth":0,"labelFont":"Lato","labelFontSize":17,"labelColor":"#000","labelOffset":5,"rowPadding":11,"clipHeight":18,"padding":0}}}},
 {"data":{"name":"pie"},"transform":[{"filter":"datum.p=='c'"}],"mark":{"type":"text","radius":20,"fontSize":13,"color":"#222"},
  "encoding":{"x":{"datum":31.8,"type":"quantitative","axis":{"values":[0,50,100,150,200]}},"y":{"datum":5.91,"type":"quantitative","axis":{"values":[0,1,2,3,4,5,6,7,8]}},"theta":{"field":"pct","type":"quantitative","stack":true},"order":{"field":"crop","sort":"descending"},"text":{"field":"pct","type":"quantitative","format":".0%"},"opacity":{"condition":{"test":"datum.pct<0.2","value":0},"value":1}}},
 {"data":{"name":"pie"},"transform":[{"filter":"datum.p=='c'"}],"mark":{"type":"text","radius":54,"fontSize":13,"color":"#222"},
  "encoding":{"x":{"datum":31.8,"type":"quantitative","axis":{"values":[0,50,100,150,200]}},"y":{"datum":5.91,"type":"quantitative","axis":{"values":[0,1,2,3,4,5,6,7,8]}},"theta":{"field":"pct","type":"quantitative","stack":true},"order":{"field":"crop","sort":"descending"},"text":{"field":"pct","type":"quantitative","format":".0%"},"opacity":{"condition":{"test":"datum.pct>=0.2","value":0},"value":1}}},
 {"data":{"name":"panels"},"transform":[{"filter":"datum.p=='c'"}],"mark":{"type":"text","align":"left","baseline":"middle","font":"Liberation Serif","fontSize":20,"color":"#000"},
  "encoding":{"x":{"datum":3.3,"type":"quantitative","axis":{"values":[0,50,100,150,200]}},"y":{"datum":7.33,"type":"quantitative","axis":{"values":[0,1,2,3,4,5,6,7,8]}},"text":{"field":"label"}}}
]},
{"width":530,"height":240,"layer":[
 {"encoding":{"x":{"field":"d","type":"quantitative","scale":{"domain":[0,200]},"axis":{"values":[0,50,100,150,200]},"title":"Day of Year"},"y":{"field":"v","type":"quantitative","scale":{"domain":[0,8]},"axis":{"values":[0,1,2,3,4,5,6,7,8]},"title":"LAI (m²/m²)"}},
  "layer":[
  {"data":{"name":"lai"},"transform":[{"filter":"datum.p=='d'"},{"fold":["OM"],"as":["s","v"]},{"filter":"isValid(datum.v)"}],"mark":{"type":"line","color":"#F09A2A","strokeWidth":3}},
  {"data":{"name":"lai"},"transform":[{"filter":"datum.p=='d'"},{"fold":["SG"],"as":["s","v"]},{"filter":"isValid(datum.v)"}],"mark":{"type":"line","color":"#6B1A7B","strokeWidth":3}},
  {"data":{"name":"lai"},"transform":[{"filter":"datum.p=='d'"},{"fold":["SG"],"as":["s","v"]},{"filter":"isValid(datum.v)"}],"mark":{"type":"point","shape":"M0,-0.27L0,0.27","size":900,"filled":false,"color":"#6B1A7B","strokeWidth":1.5,"opacity":1}},
  {"data":{"name":"lai"},"transform":[{"filter":"datum.p=='d'"},{"fold":["FM","TM","SA"],"as":["s","v"]},{"filter":"isValid(datum.v)"}],"mark":{"type":"point","filled":true,"size":900,"strokeWidth":1.5,"opacity":1},
   "encoding":{
    "fill":{"field":"s","type":"nominal","scale":{"domain":["FM","OM","SG","TM","SA"],"range":["#D42020","#F09A2A","#6B1A7B","#5DBB2E","#2B20D0"]},"legend":{"orient":"none","legendX":-56,"legendY":313,"direction":"horizontal","columns":3,"gridAlign":"all","columnPadding":5,"rowPadding":4,"clipHeight":20,"title":null,"symbolSize":900,"symbolStrokeWidth":1.5,"labelFont":"Lato","labelFontSize":16,"labelColor":"#000","labelOffset":1,"labelLimit":400,"padding":0,"labelExpr":"datum.label=='FM'?'Field-measured LAI':datum.label=='OM'?'Original MODIS LAI':datum.label=='SG'?'S-G filtered MODIS LAI':datum.label=='TM'?'TM LAI':'Scale-adjusted LAI'"}},
    "stroke":{"field":"s","type":"nominal","scale":{"domain":["FM","OM","SG","TM","SA"],"range":["#D42020","#F09A2A","#6B1A7B","#5DBB2E","#2B20D0"]},"legend":{"orient":"none","legendX":-56,"legendY":313,"direction":"horizontal","columns":3,"gridAlign":"all","columnPadding":5,"rowPadding":4,"clipHeight":20,"title":null,"symbolSize":900,"symbolStrokeWidth":1.5,"labelFont":"Lato","labelFontSize":16,"labelColor":"#000","labelOffset":1,"labelLimit":400,"padding":0,"labelExpr":"datum.label=='FM'?'Field-measured LAI':datum.label=='OM'?'Original MODIS LAI':datum.label=='SG'?'S-G filtered MODIS LAI':datum.label=='TM'?'TM LAI':'Scale-adjusted LAI'"}},
    "shape":{"field":"s","type":"nominal","scale":{"domain":["FM","OM","SG","TM","SA"],"range":["M0.35,0A0.35,0.35,0,1,1,-0.35,0A0.35,0.35,0,1,1,0.35,0Z","M-1,-0.07L1,-0.07L1,0.07L-1,0.07Z","M-1,-0.07L-0.05,-0.07L-0.05,-0.3L0.05,-0.3L0.05,-0.07L1,-0.07L1,0.07L0.05,0.07L0.05,0.3L-0.05,0.3L-0.05,0.07L-1,0.07Z","M0,-0.38L0.4,0.3L-0.4,0.3Z","M-0.3,-0.3L0.3,0.3M-0.3,0.3L0.3,-0.3M0,-0.34L0,0.34"]},"legend":{"orient":"none","legendX":-56,"legendY":313,"direction":"horizontal","columns":3,"gridAlign":"all","columnPadding":5,"rowPadding":4,"clipHeight":20,"title":null,"symbolSize":900,"symbolStrokeWidth":1.5,"labelFont":"Lato","labelFontSize":16,"labelColor":"#000","labelOffset":1,"labelLimit":400,"padding":0,"labelExpr":"datum.label=='FM'?'Field-measured LAI':datum.label=='OM'?'Original MODIS LAI':datum.label=='SG'?'S-G filtered MODIS LAI':datum.label=='TM'?'TM LAI':'Scale-adjusted LAI'"}}}}
 ]},
 {"data":{"name":"pie"},"transform":[{"filter":"datum.p=='d'"}],"mark":{"type":"arc","radius":40},
  "encoding":{"x":{"datum":31.8,"type":"quantitative","axis":{"values":[0,50,100,150,200]}},"y":{"datum":5.96,"type":"quantitative","axis":{"values":[0,1,2,3,4,5,6,7,8]}},"theta":{"field":"pct","type":"quantitative","stack":true},"order":{"field":"crop","sort":"descending"},
   "color":{"field":"crop","type":"nominal","scale":{"domain":["Winter wheat","Other crops","Cotton","Built-up"],"range":["#62B22F","#CC00E8","#82F5C2","#F6F68E"]},"legend":{"orient":"none","legendX":138,"legendY":6,"title":null,"symbolType":"square","symbolSize":121,"symbolStrokeWidth":0,"labelFont":"Lato","labelFontSize":17,"labelColor":"#000","labelOffset":5,"rowPadding":13,"clipHeight":18,"padding":0}}}},
 {"data":{"name":"pie"},"transform":[{"filter":"datum.p=='d'"}],"mark":{"type":"text","radius":20,"fontSize":13,"color":"#222"},
  "encoding":{"x":{"datum":31.8,"type":"quantitative","axis":{"values":[0,50,100,150,200]}},"y":{"datum":5.96,"type":"quantitative","axis":{"values":[0,1,2,3,4,5,6,7,8]}},"theta":{"field":"pct","type":"quantitative","stack":true},"order":{"field":"crop","sort":"descending"},"text":{"field":"pct","type":"quantitative","format":".0%"},"opacity":{"condition":{"test":"datum.pct<0.2","value":0},"value":1}}},
 {"data":{"name":"pie"},"transform":[{"filter":"datum.p=='d'"}],"mark":{"type":"text","radius":56,"fontSize":13,"color":"#222"},
  "encoding":{"x":{"datum":31.8,"type":"quantitative","axis":{"values":[0,50,100,150,200]}},"y":{"datum":5.96,"type":"quantitative","axis":{"values":[0,1,2,3,4,5,6,7,8]}},"theta":{"field":"pct","type":"quantitative","stack":true},"order":{"field":"crop","sort":"descending"},"text":{"field":"pct","type":"quantitative","format":".0%"},"opacity":{"condition":{"test":"datum.pct>=0.2","value":0},"value":1}}},
 {"data":{"name":"panels"},"transform":[{"filter":"datum.p=='d'"}],"mark":{"type":"text","align":"left","baseline":"middle","font":"Liberation Serif","fontSize":20,"color":"#000"},
  "encoding":{"x":{"datum":3.6,"type":"quantitative","axis":{"values":[0,50,100,150,200]}},"y":{"datum":7.37,"type":"quantitative","axis":{"values":[0,1,2,3,4,5,6,7,8]}},"text":{"field":"label"}}}
]},
{"width":537,"height":240,"layer":[
 {"encoding":{"x":{"field":"d","type":"quantitative","scale":{"domain":[0,200]},"axis":{"values":[0,50,100,150,200]},"title":"Day of Year"},"y":{"field":"v","type":"quantitative","scale":{"domain":[0,10]},"axis":{"values":[0,2,4,6,8,10]},"title":"LAI (m²/m²)"}},
  "layer":[
  {"data":{"name":"lai"},"transform":[{"filter":"datum.p=='e'"},{"fold":["OM"],"as":["s","v"]},{"filter":"isValid(datum.v)"}],"mark":{"type":"line","color":"#F09A2A","strokeWidth":3}},
  {"data":{"name":"lai"},"transform":[{"filter":"datum.p=='e'"},{"fold":["SG"],"as":["s","v"]},{"filter":"isValid(datum.v)"}],"mark":{"type":"line","color":"#6B1A7B","strokeWidth":3}},
  {"data":{"name":"lai"},"transform":[{"filter":"datum.p=='e'"},{"fold":["SG"],"as":["s","v"]},{"filter":"isValid(datum.v)"}],"mark":{"type":"point","shape":"M0,-0.27L0,0.27","size":900,"filled":false,"color":"#6B1A7B","strokeWidth":1.5,"opacity":1}},
  {"data":{"name":"lai"},"transform":[{"filter":"datum.p=='e'"},{"fold":["FM","TM","SA"],"as":["s","v"]},{"filter":"isValid(datum.v)"}],"mark":{"type":"point","filled":true,"size":900,"strokeWidth":1.5,"opacity":1},
   "encoding":{
    "fill":{"field":"s","type":"nominal","scale":{"domain":["FM","OM","SG","TM","SA"],"range":["#D42020","#F09A2A","#6B1A7B","#5DBB2E","#2B20D0"]},"legend":{"orient":"none","legendX":-52,"legendY":316,"direction":"horizontal","columns":3,"gridAlign":"all","columnPadding":5,"rowPadding":4,"clipHeight":20,"title":null,"symbolSize":900,"symbolStrokeWidth":1.5,"labelFont":"Lato","labelFontSize":16,"labelColor":"#000","labelOffset":1,"labelLimit":400,"padding":0,"labelExpr":"datum.label=='FM'?'Field-measured LAI':datum.label=='OM'?'Original MODIS LAI':datum.label=='SG'?'S-G filtered MODIS LAI':datum.label=='TM'?'TM LAI':'Scale-adjusted LAI'"}},
    "stroke":{"field":"s","type":"nominal","scale":{"domain":["FM","OM","SG","TM","SA"],"range":["#D42020","#F09A2A","#6B1A7B","#5DBB2E","#2B20D0"]},"legend":{"orient":"none","legendX":-52,"legendY":316,"direction":"horizontal","columns":3,"gridAlign":"all","columnPadding":5,"rowPadding":4,"clipHeight":20,"title":null,"symbolSize":900,"symbolStrokeWidth":1.5,"labelFont":"Lato","labelFontSize":16,"labelColor":"#000","labelOffset":1,"labelLimit":400,"padding":0,"labelExpr":"datum.label=='FM'?'Field-measured LAI':datum.label=='OM'?'Original MODIS LAI':datum.label=='SG'?'S-G filtered MODIS LAI':datum.label=='TM'?'TM LAI':'Scale-adjusted LAI'"}},
    "shape":{"field":"s","type":"nominal","scale":{"domain":["FM","OM","SG","TM","SA"],"range":["M0.35,0A0.35,0.35,0,1,1,-0.35,0A0.35,0.35,0,1,1,0.35,0Z","M-1,-0.07L1,-0.07L1,0.07L-1,0.07Z","M-1,-0.07L-0.05,-0.07L-0.05,-0.3L0.05,-0.3L0.05,-0.07L1,-0.07L1,0.07L0.05,0.07L0.05,0.3L-0.05,0.3L-0.05,0.07L-1,0.07Z","M0,-0.38L0.4,0.3L-0.4,0.3Z","M-0.3,-0.3L0.3,0.3M-0.3,0.3L0.3,-0.3M0,-0.34L0,0.34"]},"legend":{"orient":"none","legendX":-52,"legendY":316,"direction":"horizontal","columns":3,"gridAlign":"all","columnPadding":5,"rowPadding":4,"clipHeight":20,"title":null,"symbolSize":900,"symbolStrokeWidth":1.5,"labelFont":"Lato","labelFontSize":16,"labelColor":"#000","labelOffset":1,"labelLimit":400,"padding":0,"labelExpr":"datum.label=='FM'?'Field-measured LAI':datum.label=='OM'?'Original MODIS LAI':datum.label=='SG'?'S-G filtered MODIS LAI':datum.label=='TM'?'TM LAI':'Scale-adjusted LAI'"}}}}
 ]},
 {"data":{"name":"pie"},"transform":[{"filter":"datum.p=='e'"}],"mark":{"type":"arc","radius":40},
  "encoding":{"x":{"datum":34.2,"type":"quantitative","axis":{"values":[0,50,100,150,200]}},"y":{"datum":7.18,"type":"quantitative","axis":{"values":[0,2,4,6,8,10]}},"theta":{"field":"pct","type":"quantitative","stack":true},"order":{"field":"crop","sort":"descending"},
   "color":{"field":"crop","type":"nominal","scale":{"domain":["Winter wheat","Other crops","Cotton","Built-up"],"range":["#62B22F","#CC00E8","#82F5C2","#F6F68E"]},"legend":{"orient":"none","legendX":148,"legendY":11,"title":null,"symbolType":"square","symbolSize":121,"symbolStrokeWidth":0,"labelFont":"Lato","labelFontSize":17,"labelColor":"#000","labelOffset":5,"rowPadding":12,"clipHeight":18,"padding":0}}}},
 {"data":{"name":"pie"},"transform":[{"filter":"datum.p=='e'"}],"mark":{"type":"text","radius":20,"fontSize":13,"color":"#222"},
  "encoding":{"x":{"datum":34.2,"type":"quantitative","axis":{"values":[0,50,100,150,200]}},"y":{"datum":7.18,"type":"quantitative","axis":{"values":[0,2,4,6,8,10]}},"theta":{"field":"pct","type":"quantitative","stack":true},"order":{"field":"crop","sort":"descending"},"text":{"field":"pct","type":"quantitative","format":".0%"},"opacity":{"condition":{"test":"datum.pct<0.2","value":0},"value":1}}},
 {"data":{"name":"pie"},"transform":[{"filter":"datum.p=='e'"}],"mark":{"type":"text","radius":56,"fontSize":13,"color":"#222"},
  "encoding":{"x":{"datum":34.2,"type":"quantitative","axis":{"values":[0,50,100,150,200]}},"y":{"datum":7.18,"type":"quantitative","axis":{"values":[0,2,4,6,8,10]}},"theta":{"field":"pct","type":"quantitative","stack":true},"order":{"field":"crop","sort":"descending"},"text":{"field":"pct","type":"quantitative","format":".0%"},"opacity":{"condition":{"test":"datum.pct>=0.2","value":0},"value":1}}},
 {"data":{"name":"panels"},"transform":[{"filter":"datum.p=='e'"}],"mark":{"type":"text","align":"left","baseline":"middle","font":"Liberation Serif","fontSize":20,"color":"#000"},
  "encoding":{"x":{"datum":6.2,"type":"quantitative","axis":{"values":[0,50,100,150,200]}},"y":{"datum":9.14,"type":"quantitative","axis":{"values":[0,2,4,6,8,10]}},"text":{"field":"label"}}}
]},
{"width":520,"height":240,"layer":[
 {"encoding":{"x":{"field":"d","type":"quantitative","scale":{"domain":[0,200]},"axis":{"values":[0,50,100,150,200]},"title":"Day of Year"},"y":{"field":"v","type":"quantitative","scale":{"domain":[0,8]},"axis":{"values":[0,1,2,3,4,5,6,7,8]},"title":"LAI (m²/m²)"}},
  "layer":[
  {"data":{"name":"lai"},"transform":[{"filter":"datum.p=='f'"},{"fold":["OM"],"as":["s","v"]},{"filter":"isValid(datum.v)"}],"mark":{"type":"line","color":"#F09A2A","strokeWidth":3}},
  {"data":{"name":"lai"},"transform":[{"filter":"datum.p=='f'"},{"fold":["SG"],"as":["s","v"]},{"filter":"isValid(datum.v)"}],"mark":{"type":"line","color":"#6B1A7B","strokeWidth":3}},
  {"data":{"name":"lai"},"transform":[{"filter":"datum.p=='f'"},{"fold":["SG"],"as":["s","v"]},{"filter":"isValid(datum.v)"}],"mark":{"type":"point","shape":"M0,-0.27L0,0.27","size":900,"filled":false,"color":"#6B1A7B","strokeWidth":1.5,"opacity":1}},
  {"data":{"name":"lai"},"transform":[{"filter":"datum.p=='f'"},{"fold":["FM","TM","SA"],"as":["s","v"]},{"filter":"isValid(datum.v)"}],"mark":{"type":"point","filled":true,"size":900,"strokeWidth":1.5,"opacity":1},
   "encoding":{
    "fill":{"field":"s","type":"nominal","scale":{"domain":["FM","OM","SG","TM","SA"],"range":["#D42020","#F09A2A","#6B1A7B","#5DBB2E","#2B20D0"]},"legend":{"orient":"none","legendX":-54,"legendY":314,"direction":"horizontal","columns":3,"gridAlign":"all","columnPadding":5,"rowPadding":4,"clipHeight":20,"title":null,"symbolSize":900,"symbolStrokeWidth":1.5,"labelFont":"Lato","labelFontSize":16,"labelColor":"#000","labelOffset":1,"labelLimit":400,"padding":0,"labelExpr":"datum.label=='FM'?'Field-measured LAI':datum.label=='OM'?'Original MODIS LAI':datum.label=='SG'?'S-G filtered MODIS LAI':datum.label=='TM'?'TM LAI':'Scale-adjusted LAI'"}},
    "stroke":{"field":"s","type":"nominal","scale":{"domain":["FM","OM","SG","TM","SA"],"range":["#D42020","#F09A2A","#6B1A7B","#5DBB2E","#2B20D0"]},"legend":{"orient":"none","legendX":-54,"legendY":314,"direction":"horizontal","columns":3,"gridAlign":"all","columnPadding":5,"rowPadding":4,"clipHeight":20,"title":null,"symbolSize":900,"symbolStrokeWidth":1.5,"labelFont":"Lato","labelFontSize":16,"labelColor":"#000","labelOffset":1,"labelLimit":400,"padding":0,"labelExpr":"datum.label=='FM'?'Field-measured LAI':datum.label=='OM'?'Original MODIS LAI':datum.label=='SG'?'S-G filtered MODIS LAI':datum.label=='TM'?'TM LAI':'Scale-adjusted LAI'"}},
    "shape":{"field":"s","type":"nominal","scale":{"domain":["FM","OM","SG","TM","SA"],"range":["M0.35,0A0.35,0.35,0,1,1,-0.35,0A0.35,0.35,0,1,1,0.35,0Z","M-1,-0.07L1,-0.07L1,0.07L-1,0.07Z","M-1,-0.07L-0.05,-0.07L-0.05,-0.3L0.05,-0.3L0.05,-0.07L1,-0.07L1,0.07L0.05,0.07L0.05,0.3L-0.05,0.3L-0.05,0.07L-1,0.07Z","M0,-0.38L0.4,0.3L-0.4,0.3Z","M-0.3,-0.3L0.3,0.3M-0.3,0.3L0.3,-0.3M0,-0.34L0,0.34"]},"legend":{"orient":"none","legendX":-54,"legendY":314,"direction":"horizontal","columns":3,"gridAlign":"all","columnPadding":5,"rowPadding":4,"clipHeight":20,"title":null,"symbolSize":900,"symbolStrokeWidth":1.5,"labelFont":"Lato","labelFontSize":16,"labelColor":"#000","labelOffset":1,"labelLimit":400,"padding":0,"labelExpr":"datum.label=='FM'?'Field-measured LAI':datum.label=='OM'?'Original MODIS LAI':datum.label=='SG'?'S-G filtered MODIS LAI':datum.label=='TM'?'TM LAI':'Scale-adjusted LAI'"}}}}
 ]},
 {"data":{"name":"pie"},"transform":[{"filter":"datum.p=='f'"}],"mark":{"type":"arc","radius":42},
  "encoding":{"x":{"datum":27.9,"type":"quantitative","axis":{"values":[0,50,100,150,200]}},"y":{"datum":5.76,"type":"quantitative","axis":{"values":[0,1,2,3,4,5,6,7,8]}},"theta":{"field":"pct","type":"quantitative","stack":true},"order":{"field":"crop","sort":"descending"},
   "color":{"field":"crop","type":"nominal","scale":{"domain":["Winter wheat","Other crops","Cotton","Built-up"],"range":["#62B22F","#CC00E8","#82F5C2","#F6F68E"]},"legend":{"orient":"none","legendX":134,"legendY":12,"title":null,"symbolType":"square","symbolSize":121,"symbolStrokeWidth":0,"labelFont":"Lato","labelFontSize":17,"labelColor":"#000","labelOffset":5,"rowPadding":12,"clipHeight":18,"padding":0}}}},
 {"data":{"name":"pie"},"transform":[{"filter":"datum.p=='f'"}],"mark":{"type":"text","radius":21,"fontSize":13,"color":"#222"},
  "encoding":{"x":{"datum":27.9,"type":"quantitative","axis":{"values":[0,50,100,150,200]}},"y":{"datum":5.76,"type":"quantitative","axis":{"values":[0,1,2,3,4,5,6,7,8]}},"theta":{"field":"pct","type":"quantitative","stack":true},"order":{"field":"crop","sort":"descending"},"text":{"field":"pct","type":"quantitative","format":".0%"},"opacity":{"condition":{"test":"datum.pct<0.2","value":0},"value":1}}},
 {"data":{"name":"pie"},"transform":[{"filter":"datum.p=='f'"}],"mark":{"type":"text","radius":54,"fontSize":13,"color":"#222","align":"right"},
  "encoding":{"x":{"datum":27.9,"type":"quantitative","axis":{"values":[0,50,100,150,200]}},"y":{"datum":5.76,"type":"quantitative","axis":{"values":[0,1,2,3,4,5,6,7,8]}},"theta":{"field":"pct","type":"quantitative","stack":true},"order":{"field":"crop","sort":"descending"},"text":{"field":"pct","type":"quantitative","format":".0%"},"opacity":{"condition":{"test":"datum.crop=='Cotton'","value":1},"value":0}}},
 {"data":{"name":"pie"},"transform":[{"filter":"datum.p=='f'"}],"mark":{"type":"text","radius":54,"fontSize":13,"color":"#222"},
  "encoding":{"x":{"datum":27.9,"type":"quantitative","axis":{"values":[0,50,100,150,200]}},"y":{"datum":5.76,"type":"quantitative","axis":{"values":[0,1,2,3,4,5,6,7,8]}},"theta":{"field":"pct","type":"quantitative","stack":true},"order":{"field":"crop","sort":"descending"},"text":{"field":"pct","type":"quantitative","format":".0%"},"opacity":{"condition":{"test":"datum.crop=='Built-up'","value":1},"value":0}}},
 {"data":{"name":"panels"},"transform":[{"filter":"datum.p=='f'"}],"mark":{"type":"text","align":"left","baseline":"middle","font":"Liberation Serif","fontSize":20,"color":"#000"},
  "encoding":{"x":{"datum":3.8,"type":"quantitative","axis":{"values":[0,50,100,150,200]}},"y":{"datum":7.28,"type":"quantitative","axis":{"values":[0,1,2,3,4,5,6,7,8]}},"text":{"field":"label"}}}
]}
]
}
